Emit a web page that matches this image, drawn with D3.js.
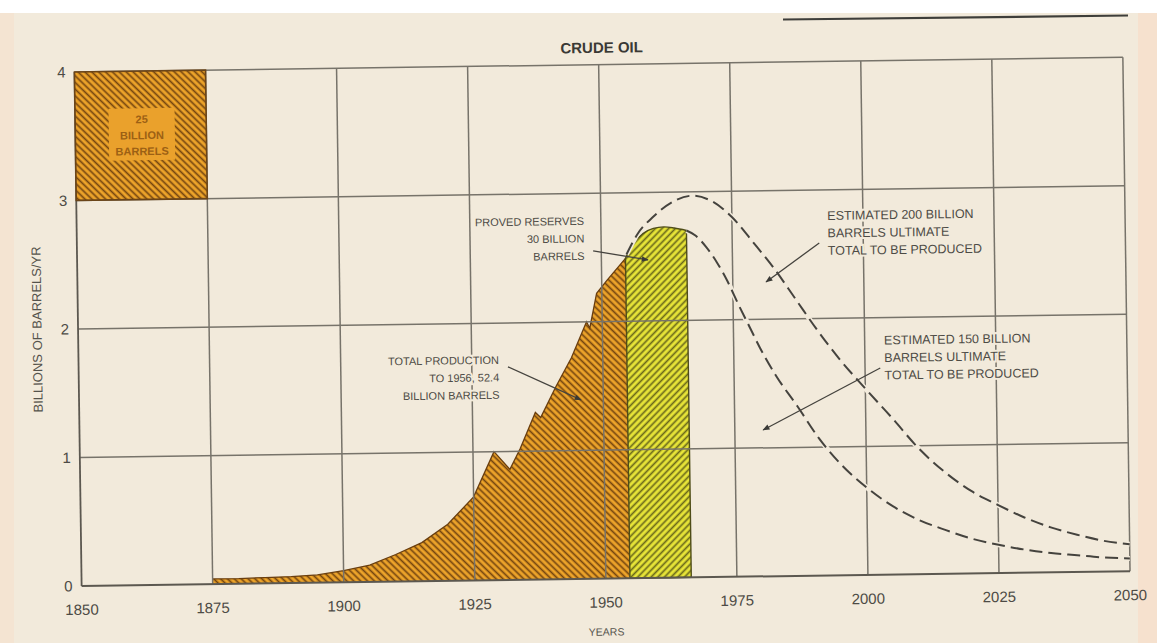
<!DOCTYPE html>
<html><head><meta charset="utf-8">
<script src="https://cdn.jsdelivr.net/npm/d3@7"></script>
<style>html,body{margin:0;padding:0;background:#f1e9dc;} svg{display:block;}</style>
</head><body>
<svg id="chart" width="1157" height="643"></svg>
<script>
// ---------- data ----------
const chartTitle = "CRUDE OIL";
const xTickValues = [1850, 1875, 1900, 1925, 1950, 1975, 2000, 2025, 2050];
const yTickValues = [0, 1, 2, 3, 4];
const xAxisTitle = "YEARS";
const yAxisTitle = "BILLIONS OF BARRELS/YR";

// cumulative production (orange)
const prodYears  = [1875, 1880, 1885, 1890, 1895, 1900, 1905, 1910, 1915, 1920, 1925, 1929, 1932, 1934, 1937, 1938, 1941, 1944, 1947, 1947.6, 1949, 1951, 1954.6];
const prodValues = [0.04, 0.04, 0.045, 0.05, 0.06, 0.09, 0.13, 0.21, 0.30, 0.44, 0.65, 1.00, 0.86, 1.02, 1.30, 1.26, 1.50, 1.72, 2.00, 1.95, 2.22, 2.32, 2.49];

// proved reserves (yellow)
const reserveYears  = [1954.6, 1956, 1958, 1960, 1962, 1964, 1966.3];
const reserveValues = [2.49, 2.60, 2.68, 2.72, 2.73, 2.72, 2.70];

// estimated 200 billion ultimate (dashed)
const est200Years  = [1954.8, 1957, 1960, 1964, 1967.5, 1971, 1975, 1979, 1983, 1987, 1991, 1995, 2000, 2005, 2010, 2015, 2020, 2025, 2030, 2035, 2040, 2045, 2050];
const est200Values = [2.52, 2.68, 2.81, 2.93, 2.97, 2.93, 2.80, 2.60, 2.39, 2.15, 1.91, 1.69, 1.45, 1.22, 0.98, 0.79, 0.64, 0.53, 0.43, 0.35, 0.29, 0.24, 0.21];

// estimated 150 billion ultimate (dashed)
const est150Years  = [1966.3, 1968, 1970, 1972, 1974, 1976, 1978, 1980, 1983, 1987, 1991, 1995, 2000, 2005, 2010, 2015, 2020, 2025, 2030, 2035, 2040, 2045, 2050];
const est150Values = [2.70, 2.66, 2.57, 2.45, 2.30, 2.12, 1.95, 1.78, 1.56, 1.32, 1.07, 0.87, 0.68, 0.53, 0.42, 0.34, 0.27, 0.22, 0.18, 0.15, 0.13, 0.11, 0.10];

// reference block: 25 years x 1 billion/yr = 25 billion barrels
const scaleBlockYears  = [1850, 1875];
const scaleBlockValues = [3, 4];
const scaleBlockLabel  = ["25", "BILLION", "BARRELS"];

const noteReserves = ["PROVED RESERVES", "30 BILLION", "BARRELS"];
const noteProduction = ["TOTAL PRODUCTION", "TO 1956, 52.4", "BILLION BARRELS"];
const note200 = ["ESTIMATED 200 BILLION", "BARRELS ULTIMATE", "TOTAL TO BE PRODUCED"];
const note150 = ["ESTIMATED 150 BILLION", "BARRELS ULTIMATE", "TOTAL TO BE PRODUCED"];

// ---------- layout ----------
const W = 1157, H = 643;
const BG = "#f2eadb";
const FONT = "'Liberation Sans', Arial, Helvetica, sans-serif";
const svg = d3.select("#chart");

const x = d3.scaleLinear().domain([1850, 2050]).range([78, 1126.5]);
const y = d3.scaleLinear().domain([0, 4]).range([578.6, 64.6]);

// background of the photographed page
svg.append("rect").attr("width", W).attr("height", H).attr("fill", BG);
svg.append("rect").attr("x", 0).attr("y", 0).attr("width", 14).attr("height", H).attr("fill", "#f4e2cf").attr("opacity", 0.8);
svg.append("rect").attr("x", 1138).attr("y", 0).attr("width", 19).attr("height", H).attr("fill", "#f6e0cc").attr("opacity", 0.9);
svg.append("rect").attr("x", 0).attr("y", 0).attr("width", W).attr("height", 13).attr("fill", "#ffffff");
svg.append("line").attr("x1", 783).attr("y1", 19.5).attr("x2", 1128).attr("y2", 15.5)
  .attr("stroke", "#3e3e3a").attr("stroke-width", 2.2);

const defs = svg.append("defs");
function hatch(id, bg, fg, angle, size, lw) {
  const p = defs.append("pattern").attr("id", id).attr("patternUnits", "userSpaceOnUse")
    .attr("width", size).attr("height", size).attr("patternTransform", `rotate(${angle})`);
  p.append("rect").attr("width", size).attr("height", size).attr("fill", bg);
  p.append("line").attr("x1", size / 2).attr("y1", 0).attr("x2", size / 2).attr("y2", size)
    .attr("stroke", fg).attr("stroke-width", lw);
}
hatch("hOrange", "#eda42a", "#74450f", -45, 4.8, 1.7);
hatch("hYellow", "#e8e538", "#6a681a", 45, 4.8, 1.7);

defs.append("marker").attr("id", "arrow").attr("viewBox", "0 0 10 10")
  .attr("refX", 9).attr("refY", 5).attr("markerWidth", 8).attr("markerHeight", 7)
  .attr("markerUnits", "userSpaceOnUse").attr("orient", "auto")
  .append("path").attr("d", "M0,1 L10,5 L0,9 Z").attr("fill", "#3a3a36");

// whole page is photographed slightly tilted
const g = svg.append("g").attr("transform", "rotate(-0.8, 602, 322)");

const GRID = "#77736a";

// areas
const prodData = prodYears.map((d, i) => [d, prodValues[i]]);
const resData = reserveYears.map((d, i) => [d, reserveValues[i]]);
const area = d3.area().x(d => x(d[0])).y0(y(0)).y1(d => y(d[1]));
g.append("path").datum(prodData).attr("d", area.curve(d3.curveLinear))
  .attr("fill", "url(#hOrange)").attr("stroke", "none");
g.append("path").datum(prodData).attr("d", d3.line().x(d => x(d[0])).y(d => y(d[1])))
  .attr("fill", "none").attr("stroke", "#6a3e0e").attr("stroke-width", 1.3);
g.append("path").datum(resData).attr("d", area.curve(d3.curveMonotoneX))
  .attr("fill", "url(#hYellow)").attr("stroke", "#4f4d18").attr("stroke-width", 1.4);

// grid
const gridG = g.append("g");
xTickValues.slice(1).forEach(v => {
  gridG.append("line").attr("x1", x(v)).attr("x2", x(v)).attr("y1", y(0)).attr("y2", y(4))
    .attr("stroke", GRID).attr("stroke-width", 1.5);
});
yTickValues.slice(1).forEach(v => {
  gridG.append("line").attr("x1", x(1850)).attr("x2", x(2050)).attr("y1", y(v)).attr("y2", y(v))
    .attr("stroke", GRID).attr("stroke-width", 1.5);
});
// axes
g.append("line").attr("x1", x(1850)).attr("x2", x(2050)).attr("y1", y(0)).attr("y2", y(0))
  .attr("stroke", "#5c5850").attr("stroke-width", 2);
g.append("line").attr("x1", x(1850)).attr("x2", x(1850)).attr("y1", y(0)).attr("y2", y(4))
  .attr("stroke", "#5c5850").attr("stroke-width", 1.8);

// scale block
const bx0 = x(scaleBlockYears[0]), bx1 = x(scaleBlockYears[1]);
const by0 = y(scaleBlockValues[1]), by1 = y(scaleBlockValues[0]);
g.append("rect").attr("x", bx0).attr("y", by0).attr("width", bx1 - bx0).attr("height", by1 - by0)
  .attr("fill", "url(#hOrange)").attr("stroke", "#6a4418").attr("stroke-width", 1.6);
const bcx = (bx0 + bx1) / 2 + 1, bcy = (by0 + by1) / 2;
g.append("rect").attr("x", bcx - 33).attr("y", bcy - 27).attr("width", 66).attr("height", 52)
  .attr("fill", "#eaa12c");
scaleBlockLabel.forEach((t, i) => {
  g.append("text").attr("x", bcx).attr("y", bcy + (i - 1) * 16).attr("dy", "0.35em")
    .attr("text-anchor", "middle").attr("font-family", FONT).attr("font-weight", "bold")
    .attr("font-size", 11).attr("fill", "#9c6014").text(t);
});

// dashed projections
const line = d3.line().x(d => x(d[0])).y(d => y(d[1])).curve(d3.curveMonotoneX);
[[est200Years, est200Values], [est150Years, est150Values]].forEach(([ys, vs]) => {
  const data = ys.map((d, i) => [d, vs[i]]);
  g.append("path").datum(data).attr("d", line).attr("fill", "none")
    .attr("stroke", BG).attr("stroke-width", 5);
});
[[est200Years, est200Values], [est150Years, est150Values]].forEach(([ys, vs]) => {
  const data = ys.map((d, i) => [d, vs[i]]);
  g.append("path").datum(data).attr("d", line).attr("fill", "none")
    .attr("stroke", "#45433e").attr("stroke-width", 2).attr("stroke-dasharray", "13,6");
});

// annotations
function note(lines, ax, ay, anchor, size, lh) {
  lines.forEach((t, i) => {
    g.append("text").attr("x", x(ax)).attr("y", y(ay) + i * lh).attr("dy", "0.35em")
      .attr("text-anchor", anchor).attr("font-family", FONT).attr("font-size", size)
      .attr("fill", "#4d4b45").attr("stroke", BG).attr("stroke-width", 4)
      .attr("paint-order", "stroke").text(t);
  });
}
function leader(x1, y1, x2, y2) {
  g.append("line").attr("x1", x(x1)).attr("y1", y(y1)).attr("x2", x(x2)).attr("y2", y(y2))
    .attr("stroke", "#45433e").attr("stroke-width", 1.3).attr("marker-end", "url(#arrow)");
}
note(noteReserves, 1946.8, 2.785, "end", 11, 17.5);
leader(1948.45, 2.551, 1958.9, 2.475);
note(noteProduction, 1930.2, 1.713, "end", 11, 17.5);
leader(1931.9, 1.658, 1945.75, 1.393);
note(note200, 1993.2, 2.801, "start", 12.5, 17.5);
leader(1991.6, 2.588, 1981.35, 2.291);
note(note150, 2003.7, 1.826, "start", 12.5, 17.5);
leader(2002.9, 1.609, 1980.4, 1.139);

// tick labels
xTickValues.forEach(v => {
  g.append("text").attr("x", x(v)).attr("y", y(0) + 29).attr("text-anchor", "middle")
    .attr("font-family", FONT).attr("font-size", 15).attr("fill", "#4d4b45").text(v);
});
yTickValues.forEach(v => {
  g.append("text").attr("x", x(1850) - 9).attr("y", y(v)).attr("dy", "0.35em")
    .attr("text-anchor", "end").attr("font-family", FONT).attr("font-size", 15)
    .attr("fill", "#4d4b45").text(v);
});
g.append("text").attr("x", (x(1850) + x(2050)) / 2).attr("y", y(0) + 57).attr("text-anchor", "middle")
  .attr("font-family", FONT).attr("font-size", 10.5).attr("fill", "#55534c").text(xAxisTitle);
g.append("text").attr("transform", `translate(37, ${(y(0) + y(4)) / 2}) rotate(-90)`)
  .attr("dy", "0.35em").attr("text-anchor", "middle").attr("font-family", FONT)
  .attr("font-size", 13).attr("fill", "#55534c").text(yAxisTitle);
g.append("text").attr("x", x(1950.6)).attr("y", y(4) - 17).attr("dy", "0.35em").attr("text-anchor", "middle")
  .attr("font-family", FONT).attr("font-weight", "bold").attr("font-size", 15)
  .attr("fill", "#3a3935").text(chartTitle);
</script>
</body></html>
